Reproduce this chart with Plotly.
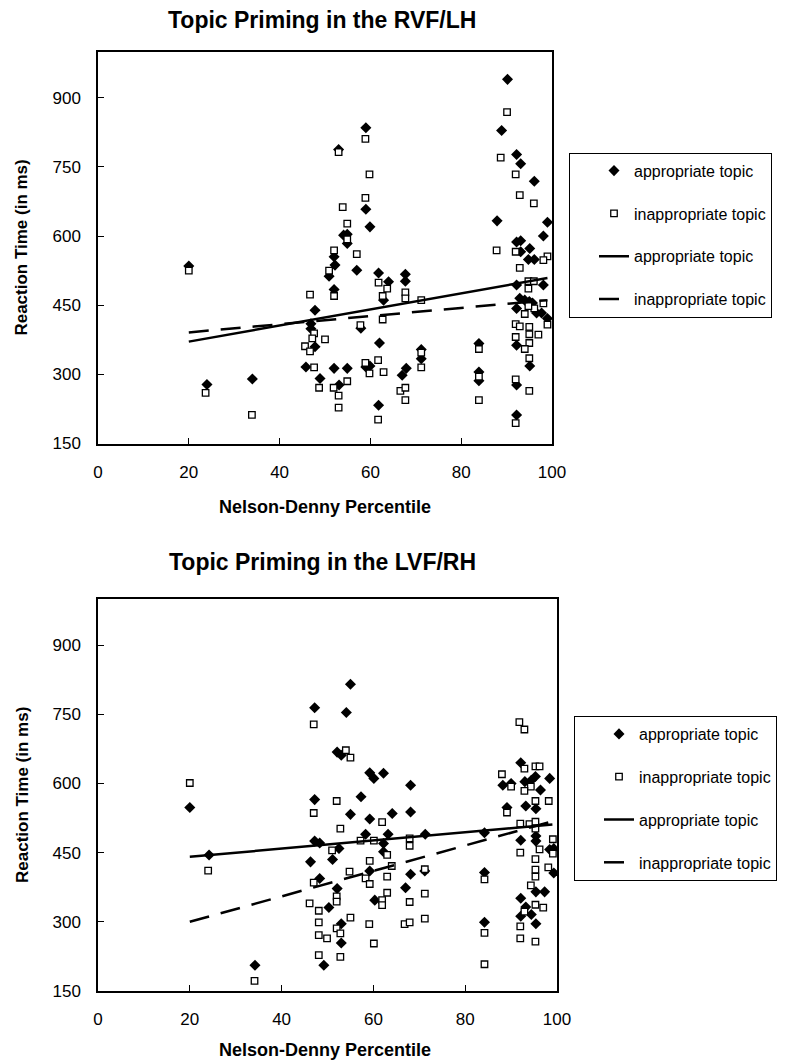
import plotly.graph_objects as go

# ---------------- data: RVF/LH (top) ----------------
rvf_app_x = [20, 24, 34, 90.2, 59, 88.9, 92.2, 93.1, 96.1, 53, 59, 59.9, 87.9, 99, 98.1,
             54.1, 54.9, 54.9, 92.2, 93.1, 95.1, 93.1, 94.8, 96.1, 52, 52.2, 57, 50.9, 61.8,
             64, 67.7, 67.7, 62.9, 52, 47.8, 46.9, 46.9, 57.9, 92.2, 98.1, 92.9, 94, 95, 95.7,
             96.6, 97.7, 92.2, 99, 92.2, 95.1, 62, 45.8, 47.8, 48.9, 52, 54.9, 59, 59.9, 53.1,
             61.8, 67, 67.9, 71.2, 71.2, 83.9, 83.9, 83.9, 92.2, 92.2]
rvf_app_y = [535, 278, 290, 940, 835, 829, 777, 757, 719, 788, 658, 620, 633, 630, 600,
             602, 604, 584, 587, 590, 573, 566, 549, 549, 555, 537, 526, 513, 520,
             501, 517, 502, 461, 484, 439, 410, 399, 400, 494, 494, 465, 461, 458, 455,
             433, 433, 443, 421, 363, 318, 368, 316, 360, 291, 313, 313, 316, 318, 277,
             233, 298, 313, 354, 334, 367, 305, 286, 277, 212]
rvf_inapp_x = [20, 23.7, 33.9, 90.1, 58.9, 53, 88.7, 92, 59.8, 92.9, 96, 58.9, 53.9, 54.9,
               54.9, 52, 57, 87.8, 92, 99, 98.1, 92.9, 50.9, 61.8, 63.7, 46.7, 52, 62.7, 67.7,
               67.7, 71.2, 94.8, 96, 94.8, 98.1, 96.1, 94.8, 94, 57.8, 62.7, 99, 92, 92.9, 95,
               95, 97, 92, 95, 94, 95, 47.6, 50, 47.2, 45.6, 46.7, 47.6, 48.7, 51.9, 53, 53,
               54.9, 58.9, 59.8, 61.7, 62.9, 61.7, 66.6, 67.7, 67.7, 71.2, 71.2, 83.9, 83.9,
               83.9, 92, 92, 95]
rvf_inapp_y = [525, 260, 212, 869, 811, 782, 770, 734, 734, 689, 671, 683, 663, 627,
               593, 569, 561, 569, 566, 556, 548, 531, 525, 499, 486, 473, 470, 470, 478,
               465, 461, 502, 502, 486, 454, 443, 448, 431, 407, 419, 408, 409, 404, 403,
               387, 386, 381, 368, 355, 335, 389, 376, 378, 361, 350, 315, 271, 271, 254, 228,
               285, 325, 302, 331, 305, 202, 264, 271, 244, 315, 347, 355, 295,
               244, 289, 194, 264]
rvf_fit_x = [20, 99]
rvf_fit_app_y = [371, 509]
rvf_fit_inapp_y = [391, 461]

# ---------------- data: LVF/RH (bottom) ----------------
lvf_app_x = [20, 24.2, 34.2, 55, 47.2, 54.1, 52.1, 53, 59.2, 60.1, 62.2, 68.1, 47.2, 57.3,
             55, 59.2, 64.1, 68.1, 58.3, 63.2, 71.3, 84.2, 47.2, 48.3, 52.5, 62.2, 62.2, 51.1,
             46.3, 48.3, 52.1, 59.2, 68.1, 67, 71.2, 60.3, 50.3, 53, 53, 49.2, 84.2, 84.2,
             88.2, 90, 92.1, 93, 95.3, 94.4, 98.4, 96.4, 89.1, 93.2, 95.4, 92.1, 95.4, 95.4,
             98.4, 99.3, 95.4, 97.3, 92.1, 93.2, 92.1, 94.4, 95.4, 99.3]
lvf_app_y = [548, 445, 206, 815, 764, 754, 668, 661, 623, 611, 622, 596, 565, 571,
             533, 523, 535, 538, 490, 490, 490, 493, 475, 471, 459, 470, 452, 435,
             430, 394, 372, 410, 403, 374, 410, 347, 331, 296, 254, 206, 407, 299,
             596, 600, 645, 604, 615, 607, 611, 586, 548, 551, 545, 477, 486, 475,
             457, 406, 365, 365, 351, 332, 312, 316, 296, 459]
lvf_inapp_x = [20, 24, 34.1, 47, 91.8, 92.9, 54, 55, 52, 47, 52.8, 61.9, 88, 92.9, 95.3,
               96.2, 90, 94.3, 92.9, 95.3, 98.2, 89.1, 92, 94, 95.3, 95.3, 57.2, 60.1, 67.9,
               67.9, 51, 63, 64, 59.2, 54.8, 58.3, 59.2, 63, 63, 47, 71.2, 71.2, 67.9, 52, 52,
               61.9, 61.9, 46.1, 48.1, 48.1, 48.1, 49.9, 48.1, 52, 52.8, 52.8, 55, 59.1, 60.1,
               66.8, 67.9, 71.2, 84.2, 84.2, 84.2, 92, 99.1, 96.2, 99.1, 95.3, 95.3, 95.3, 98.1,
               94.3, 95.3, 97, 92.9, 92, 92, 95.3]
lvf_inapp_y = [601, 411, 172, 728, 733, 717, 672, 656, 562, 536, 502, 516, 620, 632, 637,
               637, 593, 593, 584, 562, 562, 537, 513, 512, 517, 502, 476, 476, 481,
               465, 455, 445, 421, 432, 409, 394, 382, 398, 363, 385, 414, 361, 343, 355, 344,
               347, 336, 340, 324, 299, 271, 264, 228, 286, 275, 224, 309, 295, 253,
               295, 299, 307, 392, 276, 208, 450, 479, 457, 448, 436, 413, 398, 418,
               379, 337, 331, 322, 290, 264, 257]
lvf_fit_x = [20, 99]
lvf_fit_app_y = [441, 511]
lvf_fit_inapp_y = [300, 518]

titles = ["Topic Priming in the RVF/LH", "Topic Priming in the LVF/RH"]
x_title = "Nelson-Denny Percentile"
y_title = "Reaction Time (in ms)"
x_ticks = [0, 20, 40, 60, 80, 100]
y_ticks = [150, 300, 450, 600, 750, 900]
labels = ["appropriate topic", "inappropriate topic", "appropriate topic", "inappropriate topic"]

FONT = "Liberation Sans, Arial, sans-serif"
W, H = 809, 1062

fig = go.Figure()


def add_panel(n, ax, ay, ix, iy, fx, fya, fyi):
    xa = "x" if n == 1 else "x2"
    ya = "y" if n == 1 else "y2"
    lg = "legend" if n == 1 else "legend2"
    fig.add_trace(go.Scatter(x=ax, y=ay, mode="markers", name=labels[0], xaxis=xa, yaxis=ya,
                             legend=lg, legendgroup=f"{n}a",
                             marker=dict(symbol="diamond", size=8.5, color="black",
                                         line=dict(width=0))))
    fig.add_trace(go.Scatter(x=ix, y=iy, mode="markers", name=labels[1], xaxis=xa, yaxis=ya,
                             legend=lg, legendgroup=f"{n}b",
                             marker=dict(symbol="square", size=6.5, color="white",
                                         line=dict(width=1.3, color="black"))))
    fig.add_trace(go.Scatter(x=fx, y=fya, mode="lines", name=labels[2], xaxis=xa, yaxis=ya,
                             legend=lg, legendgroup=f"{n}c",
                             line=dict(color="black", width=2.5)))
    fig.add_trace(go.Scatter(x=fx, y=fyi, mode="lines", name=labels[3], xaxis=xa, yaxis=ya,
                             legend=lg, legendgroup=f"{n}d",
                             line=dict(color="black", width=2.5, dash="20px,12px")))


add_panel(1, rvf_app_x, rvf_app_y, rvf_inapp_x, rvf_inapp_y, rvf_fit_x, rvf_fit_app_y, rvf_fit_inapp_y)
add_panel(2, lvf_app_x, lvf_app_y, lvf_inapp_x, lvf_inapp_y, lvf_fit_x, lvf_fit_app_y, lvf_fit_inapp_y)

axis_common = dict(showline=True, linecolor="black", linewidth=1.5, mirror=True,
                   ticks="inside", ticklen=6, tickwidth=1.2, tickcolor="black",
                   showgrid=False, zeroline=False, automargin=False,
                   tickfont=dict(family=FONT, size=17, color="black"))

legend_common = dict(xanchor="left", yanchor="top",
                     bordercolor="black", borderwidth=1, bgcolor="white",
                     font=dict(family=FONT, size=16, color="black"),
                     tracegroupgap=19, indentation=24, traceorder="grouped")

fig.update_layout(
    width=W, height=H,
    margin=dict(l=0, r=0, t=0, b=0, autoexpand=False),
    paper_bgcolor="white", plot_bgcolor="white",
    font=dict(family=FONT, color="black"),
    xaxis=dict(domain=[98 / W, 552 / W], range=[0, 100], tickvals=x_ticks,
               ticklabelstandoff=12, anchor="y", **axis_common),
    yaxis=dict(domain=[1 - 443.5 / H, 1 - 51.7 / H], range=[150, 1000], tickvals=y_ticks,
               ticklabelstandoff=12, anchor="x", **axis_common),
    xaxis2=dict(domain=[98 / W, 557 / W], range=[0, 100], tickvals=x_ticks,
                ticklabelstandoff=12, anchor="y2", **axis_common),
    yaxis2=dict(domain=[1 - 991 / H, 1 - 599 / H], range=[150, 1000], tickvals=y_ticks,
                ticklabelstandoff=12, anchor="x2", **axis_common),
    legend=dict(x=569 / W, y=1 - 152.7 / H, **legend_common),
    legend2=dict(x=574 / W, y=1 - 716 / H, **legend_common),
    showlegend=True,
)

ann = []
for t, yc in zip(titles, [20, 562]):
    ann.append(dict(text=f"<b>{t}</b>", x=322 / W, y=1 - yc / H, xref="paper", yref="paper",
                    showarrow=False, xanchor="center", yanchor="middle",
                    font=dict(family=FONT, size=23, color="black")))
for yc in [507, 1050]:
    ann.append(dict(text=f"<b>{x_title}</b>", x=325 / W, y=1 - yc / H, xref="paper", yref="paper",
                    showarrow=False, xanchor="center", yanchor="middle",
                    font=dict(family=FONT, size=18, color="black")))
for yc in [247.6, 795]:
    ann.append(dict(text=f"<b>{y_title}</b>", x=22 / W, y=1 - yc / H, xref="paper", yref="paper",
                    showarrow=False, xanchor="center", yanchor="middle", textangle=-90,
                    font=dict(family=FONT, size=17, color="black")))
fig.update_layout(annotations=ann)

fig.write_html("out.html", config={"displayModeBar": False},
               post_script="document.body.style.margin='0px';document.body.style.padding='0px';")
